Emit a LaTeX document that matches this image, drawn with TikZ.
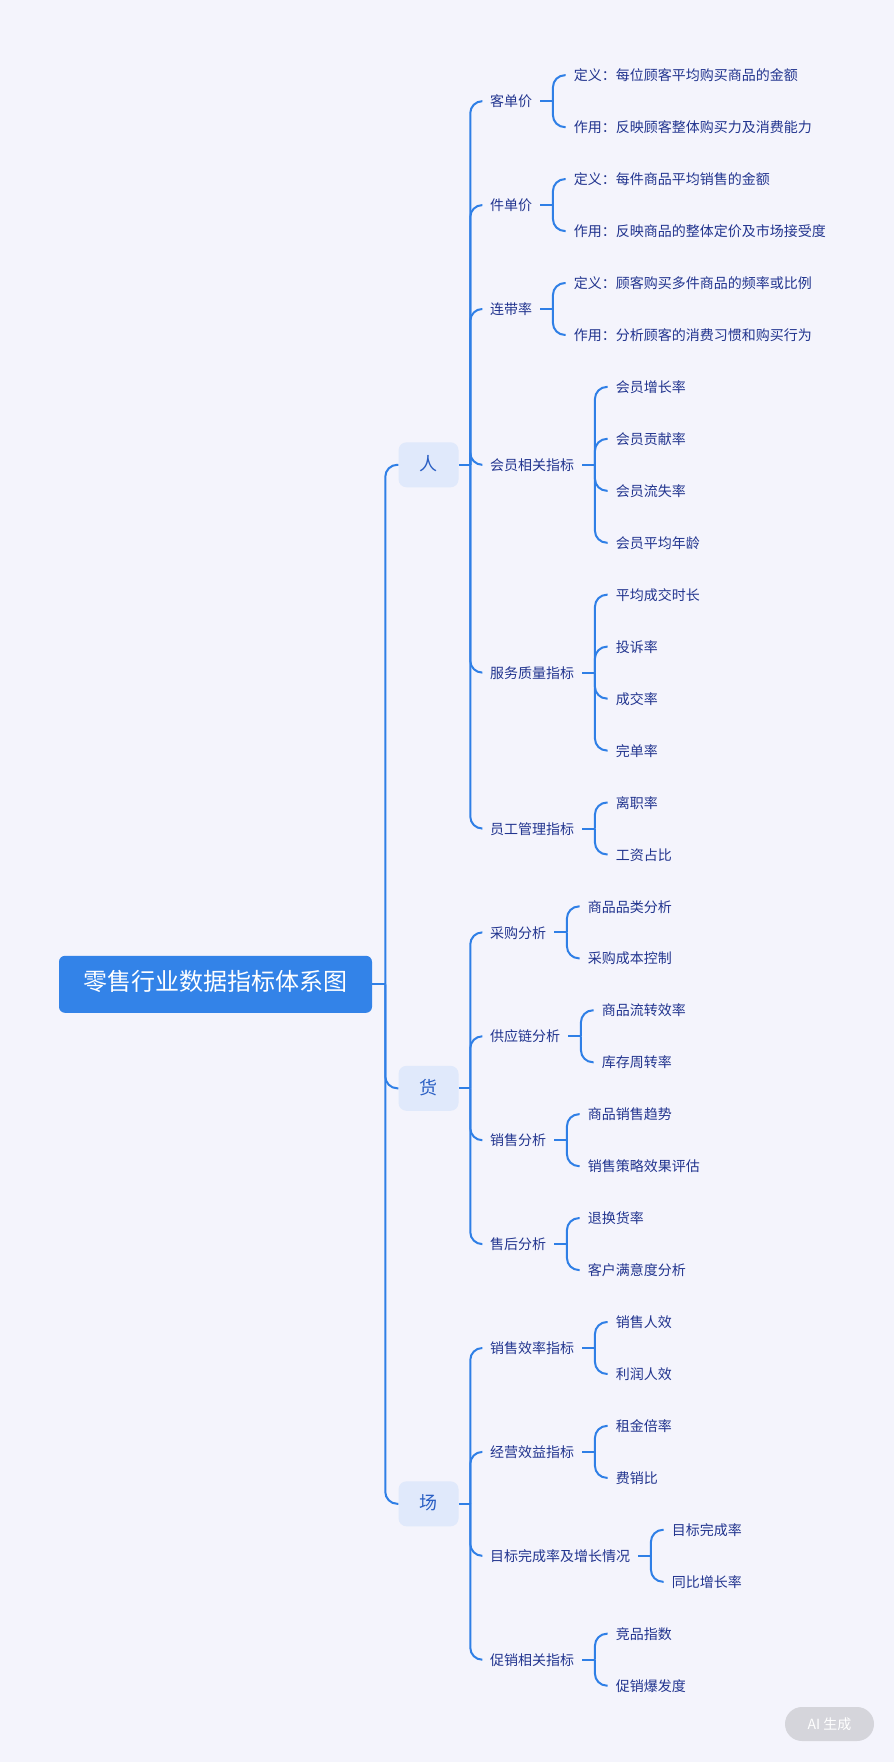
\documentclass[tikz,border=0pt]{standalone}
\usepackage{fontspec}
\setmainfont{Noto Sans CJK SC}
\definecolor{bgc}{HTML}{F4F4FC}
\definecolor{lineblue}{HTML}{2F7FE6}
\definecolor{rootblue}{HTML}{3383E8}
\definecolor{boxfill}{HTML}{E0E9FB}
\definecolor{lonetext}{HTML}{2A5FC4}
\definecolor{txt}{HTML}{22358F}
\definecolor{badgefill}{HTML}{D5D5DB}
\newcommand\mkjunc[2][9.75pt]{\coordinate (j#2) at ([xshift=#1]#2.east);\coordinate (o#2) at ([xshift=#1]j#2);\draw[conn] (#2.east) -- (j#2);}
\begin{document}
\begin{tikzpicture}[x=0.75pt,y=-0.75pt,
  conn/.style={draw=lineblue, line width=1.5pt, rounded corners=9pt},
  rootbox/.style={rectangle, rounded corners=4.5pt, fill=rootblue, text=white,
    minimum width=234.75pt, minimum height=42.75pt, inner sep=0pt,
    font=\fontsize{18pt}{18pt}\selectfont, text height=1.0em, text depth=0em},
  lone/.style={rectangle, rounded corners=6pt, fill=boxfill, text=lonetext,
    minimum width=45pt, minimum height=33.75pt, inner sep=0pt, anchor=west,
    font=\fontsize{13.5pt}{13.5pt}\selectfont, text height=0.95em, text depth=0.05em},
  ltwo/.style={anchor=west, inner xsep=6pt, inner ysep=0pt, text=txt,
    font=\fontsize{10.5pt}{10.5pt}\selectfont, text height=0.92em, text depth=0.08em},
  leaf/.style={ltwo},
  badge/.style={rectangle, rounded corners=12.75pt, fill=badgefill, text=white,
    minimum width=66.75pt, minimum height=25.5pt, inner sep=0pt,
    font=\fontsize{10.5pt}{10.5pt}\selectfont}
]
\fill[bgc] (0,0) rectangle (894,1762);
\useasboundingbox (0,0) rectangle (894,1762);

% root
\node[rootbox] (root) at (215.5,984.3) {零售行业数据指标体系图};
\mkjunc{root}

% level 1
\node[lone] (ren) at (oroot |- 0,464.8) {人};
\node[lone] (huo) at (oroot |- 0,1088.3) {货};
\node[lone] (chang) at (oroot |- 0,1503.8) {场};
\foreach \k in {ren,huo,chang} {\draw[conn] (jroot) |- (\k.west);}
\mkjunc[8.6pt]{ren}\mkjunc[8.6pt]{huo}\mkjunc[8.6pt]{chang}

% level 2 under 人
\node[ltwo] (kdj) at (oren |- 0,101.2) {客单价};
\node[ltwo] (jdj) at (oren |- 0,205.1) {件单价};
\node[ltwo] (ldl) at (oren |- 0,309.0) {连带率};
\node[ltwo] (hy) at (oren |- 0,464.8) {会员相关指标};
\node[ltwo] (fw) at (oren |- 0,672.6) {服务质量指标};
\node[ltwo] (yg) at (oren |- 0,828.5) {员工管理指标};
\foreach \k in {kdj,jdj,ldl,hy,fw,yg} {\draw[conn] (jren) |- (\k.west);}
% level 2 under 货
\node[ltwo] (cg) at (ohuo |- 0,932.4) {采购分析};
\node[ltwo] (gyl) at (ohuo |- 0,1036.3) {供应链分析};
\node[ltwo] (xs) at (ohuo |- 0,1140.2) {销售分析};
\node[ltwo] (sh) at (ohuo |- 0,1244.1) {售后分析};
\foreach \k in {cg,gyl,xs,sh} {\draw[conn] (jhuo) |- (\k.west);}
% level 2 under 场
\node[ltwo] (xl) at (ochang |- 0,1348.0) {销售效率指标};
\node[ltwo] (jy) at (ochang |- 0,1451.9) {经营效益指标};
\node[ltwo] (mb) at (ochang |- 0,1555.8) {目标完成率及增长情况};
\node[ltwo] (cx) at (ochang |- 0,1659.7) {促销相关指标};
\foreach \k in {xl,jy,mb,cx} {\draw[conn] (jchang) |- (\k.west);}

\foreach \k in {kdj,jdj,ldl,hy,fw,yg,cg,gyl,xs,sh,xl,jy,mb,cx} {\mkjunc[9.5pt]{\k}}

% leaves
\node[leaf] (a0) at (okdj |- 0,75.2) {定义：每位顾客平均购买商品的金额};
\node[leaf] (a1) at (okdj |- 0,127.15) {作用：反映顾客整体购买力及消费能力};
\node[leaf] (a2) at (ojdj |- 0,179.1) {定义：每件商品平均销售的金额};
\node[leaf] (a3) at (ojdj |- 0,231.05) {作用：反映商品的整体定价及市场接受度};
\node[leaf] (a4) at (oldl |- 0,283.0) {定义：顾客购买多件商品的频率或比例};
\node[leaf] (a5) at (oldl |- 0,334.95) {作用：分析顾客的消费习惯和购买行为};
\node[leaf] (a6) at (ohy |- 0,386.9) {会员增长率};
\node[leaf] (a7) at (ohy |- 0,438.85) {会员贡献率};
\node[leaf] (a8) at (ohy |- 0,490.8) {会员流失率};
\node[leaf] (a9) at (ohy |- 0,542.75) {会员平均年龄};
\node[leaf] (a10) at (ofw |- 0,594.7) {平均成交时长};
\node[leaf] (a11) at (ofw |- 0,646.65) {投诉率};
\node[leaf] (a12) at (ofw |- 0,698.6) {成交率};
\node[leaf] (a13) at (ofw |- 0,750.55) {完单率};
\node[leaf] (a14) at (oyg |- 0,802.5) {离职率};
\node[leaf] (a15) at (oyg |- 0,854.45) {工资占比};
\node[leaf] (a16) at (ocg |- 0,906.4) {商品品类分析};
\node[leaf] (a17) at (ocg |- 0,958.35) {采购成本控制};
\node[leaf] (a18) at (ogyl |- 0,1010.3) {商品流转效率};
\node[leaf] (a19) at (ogyl |- 0,1062.25) {库存周转率};
\node[leaf] (a20) at (oxs |- 0,1114.2) {商品销售趋势};
\node[leaf] (a21) at (oxs |- 0,1166.15) {销售策略效果评估};
\node[leaf] (a22) at (osh |- 0,1218.1) {退换货率};
\node[leaf] (a23) at (osh |- 0,1270.05) {客户满意度分析};
\node[leaf] (a24) at (oxl |- 0,1322.0) {销售人效};
\node[leaf] (a25) at (oxl |- 0,1373.95) {利润人效};
\node[leaf] (a26) at (ojy |- 0,1425.9) {租金倍率};
\node[leaf] (a27) at (ojy |- 0,1477.85) {费销比};
\node[leaf] (a28) at (omb |- 0,1529.8) {目标完成率};
\node[leaf] (a29) at (omb |- 0,1581.75) {同比增长率};
\node[leaf] (a30) at (ocx |- 0,1633.7) {竞品指数};
\node[leaf] (a31) at (ocx |- 0,1685.65) {促销爆发度};

\foreach \p/\a/\b in {kdj/a0/a1, jdj/a2/a3, ldl/a4/a5, yg/a14/a15, cg/a16/a17, gyl/a18/a19,
  xs/a20/a21, sh/a22/a23, xl/a24/a25, jy/a26/a27, mb/a28/a29, cx/a30/a31}
  {\draw[conn] (j\p) |- (\a.west); \draw[conn] (j\p) |- (\b.west);}
\foreach \a in {a6,a7,a8,a9} {\draw[conn] (jhy) |- (\a.west);}
\foreach \a in {a10,a11,a12,a13} {\draw[conn] (jfw) |- (\a.west);}

% badge
\node[badge] (ai) at (829.5,1724) {AI 生成};
\end{tikzpicture}
\end{document}
